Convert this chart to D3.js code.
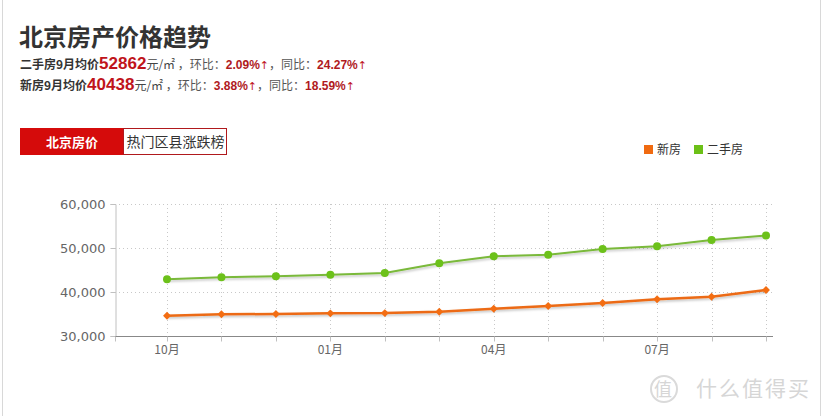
<!DOCTYPE html>
<html><head><meta charset="utf-8">
<script src="https://cdn.jsdelivr.net/npm/d3@7/dist/d3.min.js"></script>
<style>
html,body{margin:0;padding:0;background:#fff;}
svg{display:block;font-family:"Microsoft YaHei","Noto Sans CJK SC",sans-serif;}
</style></head>
<body>
<svg id="c" width="823" height="416"></svg>
<script>
const months = ["10月","11月","12月","01月","02月","03月","04月","05月","06月","07月","08月","09月"];
const tickLabels = ["10月","01月","04月","07月"];
const yTicks = [30000,40000,50000,60000];
const newHouse = [34620,34930,35000,35150,35200,35530,36210,36820,37500,38340,38940,40438];
const secondHand = [42890,43340,43570,43940,44300,46520,48110,48480,49770,50380,51820,52862];
const seriesNames = ["新房","二手房"];

const svg = d3.select("#c");
const F = '"Noto Sans CJK SC","Microsoft YaHei",sans-serif';

// page borders
svg.append("line").attr("x1",2.5).attr("x2",2.5).attr("y1",0).attr("y2",416).attr("stroke","#d8d8d8");
svg.append("line").attr("x1",820.5).attr("x2",820.5).attr("y1",0).attr("y2",416).attr("stroke","#d8d8d8");

// title
svg.append("text").attr("x",19).attr("y",46).attr("font-size",24).attr("font-weight","bold")
  .attr("fill","#333").attr("font-family",F).text("北京房产价格趋势");

function infoLine(y, parts){
  const t = svg.append("text").attr("x",20).attr("y",y).attr("font-family",F);
  parts.forEach(p=>{
    t.append("tspan").attr("font-size",p.s||12).attr("font-weight",p.b?"bold":"normal")
      .attr("fill",p.c||"#333").attr("font-family",p.f||F).text(p.t);
  });
}
const AR = '"DejaVu Sans",sans-serif';
const NUM = '"Liberation Sans",Arial,sans-serif';
infoLine(69,[{t:"二手房9月均价",b:1},{t:"52862",s:17,b:1,c:"#c0141b",f:NUM},{t:"元/㎡",c:"#444"},{t:" ，环比：",c:"#555"},
  {t:"2.09%",b:1,c:"#b01a1e",f:NUM},{t:"↑",s:11,c:"#c0141b",f:AR},{t:"，同比：",c:"#555"},{t:"24.27%",b:1,c:"#b01a1e",f:NUM},{t:"↑",s:11,c:"#c0141b",f:AR}]);
infoLine(90,[{t:"新房9月均价",b:1},{t:"40438",s:17,b:1,c:"#c0141b",f:NUM},{t:"元/㎡",c:"#444"},{t:" ，环比：",c:"#555"},
  {t:"3.88%",b:1,c:"#b01a1e",f:NUM},{t:"↑",s:11,c:"#c0141b",f:AR},{t:"，同比：",c:"#555"},{t:"18.59%",b:1,c:"#b01a1e",f:NUM},{t:"↑",s:11,c:"#c0141b",f:AR}]);

// tabs
svg.append("rect").attr("x",20).attr("y",128).attr("width",104).attr("height",27).attr("fill","#d50b0b");
svg.append("rect").attr("x",123.5).attr("y",128.5).attr("width",103).attr("height",26).attr("fill","#fff").attr("stroke","#b0191d");
svg.append("text").attr("x",72).attr("y",146.5).attr("text-anchor","middle").attr("font-size",13).attr("font-weight","bold")
  .attr("fill","#fff").attr("font-family",F).text("北京房价");
svg.append("text").attr("x",175.5).attr("y",147).attr("text-anchor","middle").attr("font-size",14)
  .attr("fill","#333").attr("font-family",F).text("热门区县涨跌榜");

// legend
const leg = svg.append("g");
[[644,657],[694,707]].forEach((p,i)=>{
  leg.append("rect").attr("x",p[0]).attr("y",145).attr("width",9).attr("height",9).attr("fill",i==0?"#f06a10":"#6cc017");
  leg.append("text").attr("x",p[1]).attr("y",154).attr("font-size",12).attr("fill","#333").attr("font-family",F).text(seriesNames[i]);
});

// scales
const x0 = 115, x1 = 773;
const x = d3.scalePoint().domain(months).range([167,766]);
const y = d3.scaleLinear().domain([30000,60000]).range([336,204]);

const g = svg.append("g");
g.selectAll(".hg").data(yTicks.slice(1)).join("line")
  .attr("x1",x0).attr("x2",x1).attr("y1",d=>Math.round(y(d))+0.5).attr("y2",d=>Math.round(y(d))+0.5)
  .attr("stroke","#c8c8c8").attr("stroke-dasharray","1,3");
g.selectAll(".vg").data(months).join("line")
  .attr("x1",d=>Math.round(x(d))+0.5).attr("x2",d=>Math.round(x(d))+0.5).attr("y1",204).attr("y2",336)
  .attr("stroke","#c8c8c8").attr("stroke-dasharray","1,3");

// y axis
const yAxis = d3.axisLeft(y).tickValues(yTicks).tickSize(5).tickFormat(d3.format(","));
const ya = svg.append("g").attr("transform",`translate(${x0+0.5},0)`).call(yAxis);
ya.select(".domain").attr("stroke","#c0c0c0");
ya.selectAll(".tick line").attr("stroke","#c0c0c0");
ya.selectAll("text").attr("font-size",13).attr("fill","#666").attr("font-family",'Verdana,"DejaVu Sans",sans-serif').attr("dx",-2).attr("dy","0.35em");

// x axis
const xa = svg.append("g").attr("transform","translate(0,336.5)");
xa.append("line").attr("x1",x0).attr("x2",x1).attr("stroke","#888");
const tickPos = [x0].concat(months.map(m=>x(m)));
xa.selectAll(".xt").data(tickPos).join("line")
  .attr("x1",d=>Math.round(d)+0.5).attr("x2",d=>Math.round(d)+0.5).attr("y1",0).attr("y2",5).attr("stroke","#c0c0c0");
xa.selectAll(".xl").data(tickLabels).join("text")
  .attr("x",d=>x(d)).attr("y",17).attr("text-anchor","middle").attr("font-size",12).attr("fill","#666")
  .attr("font-family",F).text(d=>d);

// lines
const defs = svg.append("defs");
const f = defs.append("filter").attr("id","sh").attr("x","-10%").attr("y","-50%").attr("width","120%").attr("height","200%");
f.append("feDropShadow").attr("dx",1).attr("dy",1.5).attr("stdDeviation",1).attr("flood-color","#000").attr("flood-opacity",0.25);

const line = d3.line().x((d,i)=>x(months[i])).y(d=>y(d));
const series = [newHouse, secondHand];
const lineCols = ["#ec6b14","#7ab93a"];
series.forEach((s,k)=>{
  svg.append("path").datum(s).attr("d",line).attr("fill","none").attr("stroke",lineCols[k])
    .attr("stroke-width",k==0?2.5:2).attr("filter","url(#sh)");
});
svg.selectAll(".dm").data(newHouse).join("path")
  .attr("d",d3.symbol(d3.symbolDiamond2,40))
  .attr("transform",(d,i)=>`translate(${x(months[i])},${y(d)})`).attr("fill","#f36d12");
svg.selectAll(".cm").data(secondHand).join("circle")
  .attr("cx",(d,i)=>x(months[i])).attr("cy",d=>y(d)).attr("r",4).attr("fill","#6cc11a");

// watermark
const wm = svg.append("g").attr("fill","#d6d6d6").attr("font-family",F);
wm.append("circle").attr("cx",664).attr("cy",389).attr("r",13).attr("fill","none").attr("stroke","#dadada").attr("stroke-width",2);
wm.append("text").attr("x",663).attr("y",396).attr("text-anchor","middle").attr("font-size",18).text("值");
wm.append("text").attr("x",696).attr("y",396).attr("font-size",21).attr("letter-spacing",2).text("什么值得买");
</script>
</body></html>
